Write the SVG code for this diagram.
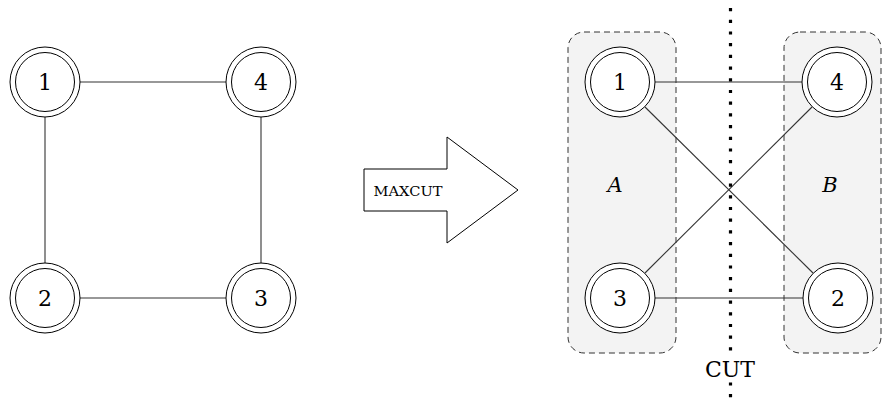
<svg xmlns="http://www.w3.org/2000/svg" width="883" height="398" viewBox="0 0 883 398">
<style>
.outer{fill:#fff;stroke:#000;stroke-width:1}
.inner{fill:none;stroke:#000;stroke-width:1}
.num{font-family:"DejaVu Serif",serif;font-size:22px;text-anchor:middle;dominant-baseline:central;fill:#000}
.edge{stroke:#333;stroke-width:1.1;fill:none}
.grp{fill:#f3f3f3;stroke:#333;stroke-width:1;stroke-dasharray:6 4}
.lbl{font-family:"DejaVu Serif",serif;font-style:italic;font-size:21px;text-anchor:middle;dominant-baseline:central}
</style>
<rect width="883" height="398" fill="#fff"/>
<g id="groupA"><rect class="grp" x="568" y="32" width="108" height="321" rx="16"/><text class="lbl" x="615" y="185">A</text></g>
<g id="groupB"><rect class="grp" x="784" y="32" width="97" height="321" rx="16"/><text class="lbl" x="830" y="185">B</text></g>
<g id="connectors">
<line class="edge" x1="80" y1="82" x2="226" y2="82"/>
<line class="edge" x1="45" y1="117" x2="45" y2="263"/>
<line class="edge" x1="261" y1="117" x2="261" y2="263"/>
<line class="edge" x1="80" y1="298" x2="226" y2="298"/>
<line class="edge" x1="655" y1="82" x2="802" y2="82"/>
<line class="edge" x1="655" y1="298" x2="803" y2="298"/>
<line class="edge" x1="645" y1="107" x2="813" y2="273"/>
<line class="edge" x1="645" y1="273" x2="812" y2="107"/>
</g>
<g id="n1L"><circle class="outer" cx="45" cy="82" r="35"/><circle class="inner" cx="45" cy="82" r="29.5"/><text class="num" x="45" y="82">1</text></g>
<g id="n4L"><circle class="outer" cx="261" cy="82" r="35"/><circle class="inner" cx="261" cy="82" r="29.5"/><text class="num" x="261" y="82">4</text></g>
<g id="n2L"><circle class="outer" cx="45" cy="298" r="35"/><circle class="inner" cx="45" cy="298" r="29.5"/><text class="num" x="45" y="298">2</text></g>
<g id="n3L"><circle class="outer" cx="261" cy="298" r="35"/><circle class="inner" cx="261" cy="298" r="29.5"/><text class="num" x="261" y="298">3</text></g>
<g id="arrow"><polygon points="364,169 447,169 447,137 518,190 447,243 447,211 364,211" fill="#fff" stroke="#000" stroke-width="1"/><text x="408" y="191" font-family="DejaVu Serif,serif" font-size="13" text-anchor="middle" dominant-baseline="central" textLength="69" lengthAdjust="spacingAndGlyphs">MAXCUT</text></g>
<g id="n1R"><circle class="outer" cx="620" cy="82" r="35"/><circle class="inner" cx="620" cy="82" r="29.5"/><text class="num" x="620" y="82">1</text></g>
<g id="n4R"><circle class="outer" cx="837" cy="82" r="35"/><circle class="inner" cx="837" cy="82" r="29.5"/><text class="num" x="837" y="82">4</text></g>
<g id="n3R"><circle class="outer" cx="620" cy="298" r="35"/><circle class="inner" cx="620" cy="298" r="29.5"/><text class="num" x="620" y="298">3</text></g>
<g id="n2R"><circle class="outer" cx="838" cy="298" r="35"/><circle class="inner" cx="838" cy="298" r="29.5"/><text class="num" x="838" y="298">2</text></g>
<g id="cut">
<line x1="730.5" y1="8" x2="730.5" y2="398" stroke="#000" stroke-width="3.2" stroke-dasharray="3.2 8.5"/>
<rect x="700" y="356" width="62" height="26" fill="#fff"/>
<text x="730" y="369" font-family="DejaVu Serif,serif" font-size="22" text-anchor="middle" dominant-baseline="central">CUT</text>
</g>
</svg>
